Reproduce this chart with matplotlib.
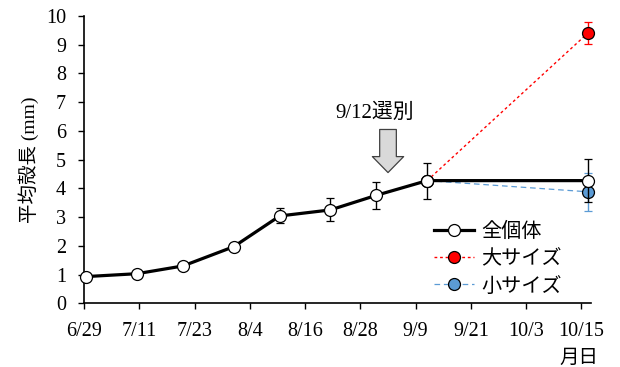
import matplotlib
matplotlib.use("Agg")
import matplotlib.pyplot as plt
from matplotlib.lines import Line2D
import pandas as pd

# Sampling dates (year is arbitrary, only day offsets are used)
sample_dates = ["6/29", "7/10", "7/20", "7/31", "8/10", "8/21", "8/31", "9/11", "10/16"]
sort_dates = ["9/11", "10/16"]

# Mean shell length (mm) and error
all_mean = [0.93, 1.03, 1.30, 1.97, 3.04, 3.25, 3.76, 4.27, 4.27]
all_err = [0.04, 0.05, 0.06, 0.12, 0.26, 0.40, 0.47, 0.63, 0.75]
large_mean = [4.27, 9.42]
large_err = [0.0, 0.38]
small_mean = [4.27, 3.88]
small_err = [0.0, 0.67]

tick_labels = ["6/29", "7/11", "7/23", "8/4", "8/16", "8/28", "9/9", "9/21", "10/3", "10/15"]
series_labels = ["全個体", "大サイズ", "小サイズ"]

origin = pd.Timestamp("2021-06-29")


def to_days(dates):
    # measurements taken at midday
    return [(pd.Timestamp(f"2021/{d}") - origin).days + 0.5 for d in dates]


x_all = to_days(sample_dates)
x_sort = to_days(sort_dates)
x_ticks = [(pd.Timestamp(f"2021/{d}") - origin).days for d in tick_labels]

serif = "Liberation Serif"
gothic = "Noto Sans CJK JP"
mixed = [serif, gothic]
plt.rcParams["font.family"] = mixed

fig = plt.figure(figsize=(6.2, 3.67), dpi=100)
ax = fig.add_axes([0.1355, 0.1736, 0.8172, 0.7828])

blue = "#5B9BD5"
ms = 8.6
small_style = dict(color=blue, lw=0.9, ls=(0, (4.5, 3)), marker="o", ms=ms,
                   mfc=blue, mec="black", mew=0.9)
large_style = dict(color="red", lw=1.0, ls=(0, (2, 2)), marker="o", ms=ms,
                   mfc="red", mec="black", mew=0.9)
all_style = dict(color="black", lw=2.3, marker="o", ms=ms, mfc="white",
                 mec="black", mew=0.9)

for xs, ys, es, style, z in [(x_sort, small_mean, small_err, small_style, 2),
                             (x_sort, large_mean, large_err, large_style, 3),
                             (x_all, all_mean, all_err, all_style, 4)]:
    cont = ax.errorbar(xs, ys, yerr=es, ecolor=style["color"], elinewidth=1.0,
                       capsize=3, capthick=1.0, zorder=z, **style)
    data_line, caplines, barcols = cont.lines
    for artist in [data_line, *caplines, *barcols]:
        artist.set_clip_on(False)

ax.set_xlim(0, 110)
ax.set_ylim(0, 10)
ax.set_xticks(x_ticks)
ax.set_xticklabels(tick_labels, family=serif)
ax.set_yticks(range(0, 11))
ax.set_yticklabels([str(v) for v in range(0, 11)], family=serif)
ax.tick_params(axis="both", labelsize=14.5, length=4.5, width=1.0,
               direction="out", colors="black")
ax.tick_params(axis="y", pad=8.5)
ax.tick_params(axis="x", pad=9)
for side in ("top", "right"):
    ax.spines[side].set_visible(False)
for side in ("left", "bottom"):
    ax.spines[side].set_linewidth(1.2)

ax.set_ylabel("平均殻長 (mm)", fontsize=14, family=mixed, labelpad=5)

# Sorting event marker
ax.annotate("", xy=(66.0, 4.55), xytext=(66.0, 6.05),
            arrowprops=dict(arrowstyle="simple,head_length=1.15,head_width=2.25,tail_width=1.2",
                            mutation_scale=10, fc="#D9D9D9", ec="#404040", lw=0.9,
                            shrinkA=0, shrinkB=0))
ax.text(63.2, 6.62, "9/12選別", fontsize=15, family=mixed,
        ha="center", va="center")

handles = [Line2D([], [], **all_style), Line2D([], [], **large_style),
           Line2D([], [], **small_style)]
leg = ax.legend(handles, series_labels,
                loc="center left", bbox_to_anchor=(434 / 620, 1 - 259 / 367),
                bbox_transform=fig.transFigure, frameon=False,
                prop={"family": gothic, "size": 14.5},
                handlelength=2.0, handletextpad=0.35, labelspacing=0.3,
                borderpad=0, borderaxespad=0)

fig.text(598 / 620, 1 - 357 / 367, "月日", fontsize=14, family=gothic,
         ha="right", va="center")

fig.savefig("out.png", dpi=100)
